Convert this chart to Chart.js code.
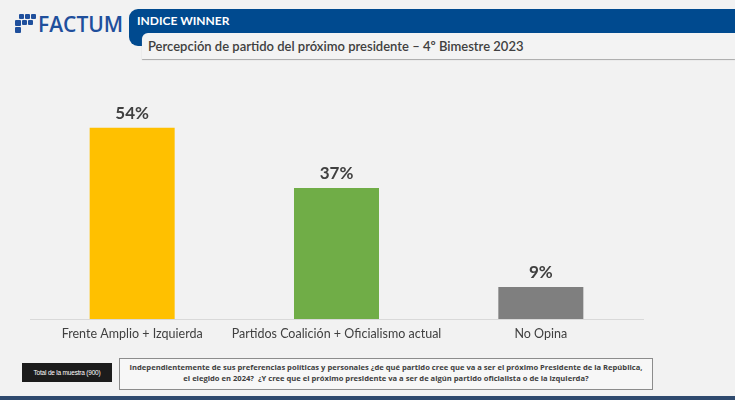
<!DOCTYPE html>
<html><head><meta charset="utf-8">
<script src="https://cdn.jsdelivr.net/npm/chart.js@4"></script>
<style>
html,body{margin:0;padding:0;}
body{width:735px;height:400px;background:#f2f2f2;position:relative;overflow:hidden;font-family:Lato,"Open Sans",sans-serif;}
#logo{position:absolute;left:14px;top:11px;width:112px;height:26px;}
#logo .sq{position:absolute;background:#1f4f9c;border-radius:1px;}
#logo .txt{position:absolute;left:24px;top:0px;font-family:"Open Sans",sans-serif;font-weight:600;font-size:21px;color:#1f4f9c;letter-spacing:0px;line-height:26px;}
#blue{position:absolute;left:129px;top:9px;width:606px;height:37px;background:#004a8f;border-radius:9px 0 0 9px;}
#blue .t{position:absolute;left:8px;top:4px;color:#fff;font-family:Lato,sans-serif;font-weight:700;font-size:12px;}
#sub{position:absolute;left:142px;top:33px;width:593px;height:26px;background:#f3f3f3;border-radius:6px 0 0 0;box-shadow:0 1px 1px #a8a8a8;}
#sub .t{position:absolute;left:6px;top:5px;color:#404040;font-family:Lato,sans-serif;font-weight:600;font-size:13px;}
#chartwrap{position:absolute;left:0;top:64px;width:735px;height:290px;}
#black{position:absolute;left:22px;top:363px;width:90px;height:19px;background:#1c1c1c;color:#fff;font-size:6.5px;line-height:19px;text-align:center;font-family:"Liberation Sans Narrow","Liberation Sans",sans-serif;letter-spacing:-0.2px;white-space:nowrap;}
#q{position:absolute;left:119px;top:358px;width:532px;background:#f7f7f7;border:1px solid #8c8c8c;color:#404040;font-size:7.6px;font-weight:700;text-align:center;line-height:11px;padding-top:3px;height:27px;font-family:"Liberation Sans Narrow","Open Sans",sans-serif;white-space:nowrap;}
#bottom{position:absolute;left:0;top:396px;width:735px;height:4px;background:#2f4a6e;}
</style></head>
<body>
<div id="logo">
  <div class="sq" style="left:5px;top:3px;width:5px;height:5px"></div>
  <div class="sq" style="left:11px;top:3px;width:5px;height:5px"></div>
  <div class="sq" style="left:17px;top:3px;width:5px;height:5px"></div>
  <div class="sq" style="left:1px;top:9px;width:6px;height:6px"></div>
  <div class="sq" style="left:8px;top:9px;width:5px;height:5px"></div>
  <div class="sq" style="left:14px;top:9px;width:5px;height:5px"></div>
  <div class="sq" style="left:1px;top:16px;width:6px;height:6px"></div>
  <div class="txt">FACTUM</div>
</div>
<div id="blue"><div class="t">INDICE WINNER</div></div>
<div id="sub"><div class="t">Percepción de partido del próximo presidente – 4º Bimestre 2023</div></div>
<div id="chartwrap"><canvas id="c" width="735" height="290"></canvas></div>
<div id="black">Total de la muestra (900)</div>
<div id="q">Independientemente de sus preferencias políticas y personales ¿de qué partido cree que va a ser el próximo Presidente de la República,<br>el elegido en 2024?&nbsp; ¿Y cree que el próximo presidente va a ser de algún partido oficialista o de la izquierda?</div>
<div id="bottom"></div>
<script>
const categories = ["Frente Amplio + Izquierda", "Partidos Coalición + Oficialismo actual", "No Opina"];
const values = [54, 37, 9];
const valueLabels = ["54%", "37%", "9%"];
const barColors = ["#ffc000", "#70ad47", "#7f7f7f"];

const labelPlugin = {
  id: 'valLabels',
  afterDatasetsDraw(chart) {
    const ctx = chart.ctx;
    const meta = chart.getDatasetMeta(0);
    ctx.save();
    ctx.fillStyle = '#404040';
    ctx.font = '700 17px Lato, sans-serif';
    ctx.textAlign = 'center';
    ctx.textBaseline = 'bottom';
    meta.data.forEach((bar, i) => {
      ctx.fillText(valueLabels[i], bar.x, bar.y - 6);
    });
    ctx.restore();
  }
};

new Chart(document.getElementById('c'), {
  type: 'bar',
  data: {
    labels: categories,
    datasets: [{
      data: values,
      backgroundColor: barColors,
      borderWidth: 0,
      barPercentage: 0.416,
      categoryPercentage: 1
    }]
  },
  options: {
    responsive: false,
    animation: false,
    maintainAspectRatio: false,
    layout: { padding: { left: 30, right: 92, top: 35, bottom: 6 } },
    plugins: { legend: { display: false }, tooltip: { enabled: false } },
    scales: {
      x: {
        grid: { display: false, drawTicks: false },
        border: { display: true, color: '#d9d9d9', width: 1 },
        ticks: { color: '#404040', font: { family: 'Lato, sans-serif', size: 12.5 }, padding: 7, maxRotation: 0, autoSkip: false }
      },
      y: {
        display: false,
        min: 0,
        max: 62.1
      }
    }
  },
  plugins: [labelPlugin]
});
</script>
</body></html>
